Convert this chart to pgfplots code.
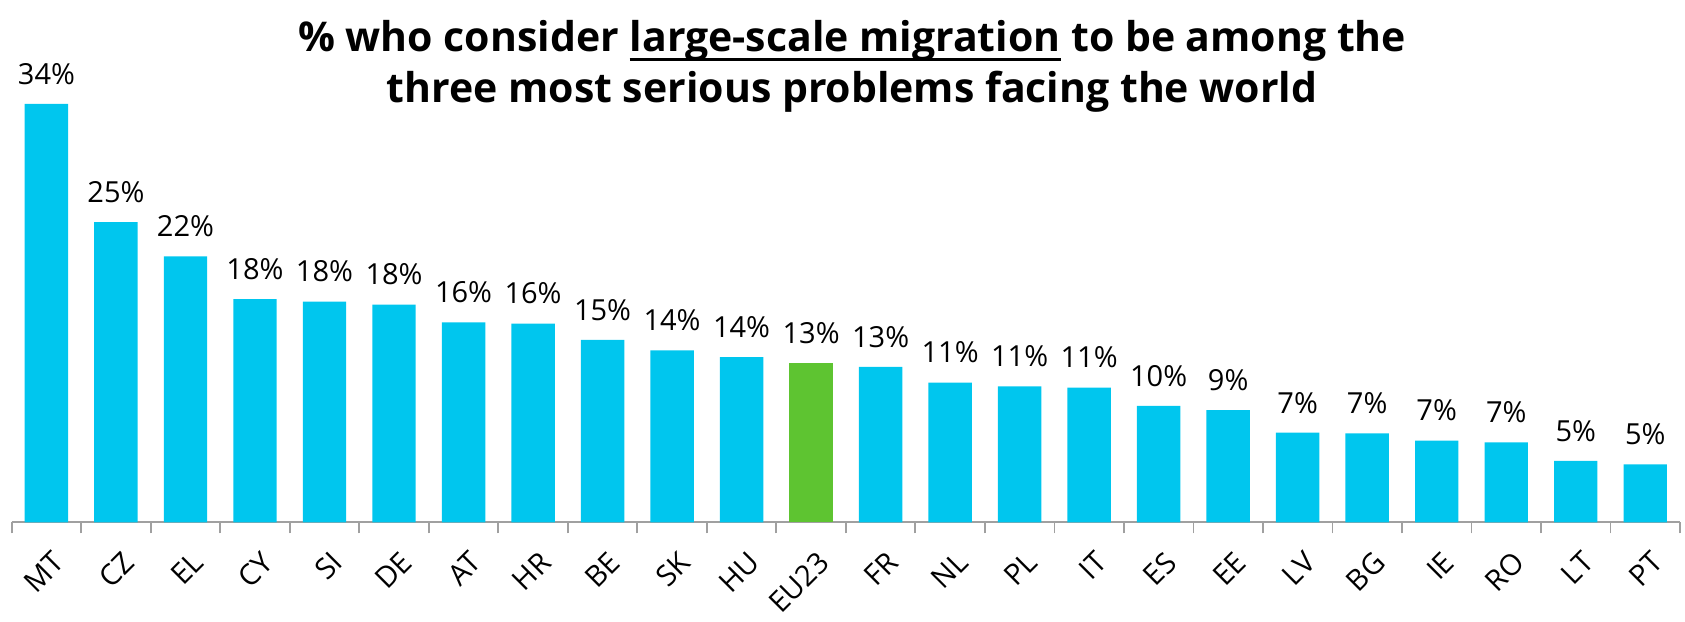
\documentclass[border=0pt]{standalone}
\usepackage{pgfplots}
\pgfplotsset{compat=1.18}
\usepackage{pgfplotstable}
\usepackage{fontspec}
\setmainfont{Open Sans}
\definecolor{barcyan}{RGB}{0,198,238}
\definecolor{bargreen}{RGB}{94,196,49}
\definecolor{axisgray}{RGB}{160,160,160}
\newcommand\ul[1]{\setbox0=\hbox{#1}\rlap{\raisebox{-4.5pt}{\rule{\wd0}{1.4pt}}}\box0\relax}

\pgfplotstableread{
x y lab
0 34.3 34
1 24.6 25
2 21.8 22
3 18.3 18
4 18.1 18
5 17.85 18
6 16.4 16
7 16.3 16
8 14.95 15
9 14.1 14
10 13.55 14
12 12.75 13
13 11.45 11
14 11.15 11
15 11.05 11
16 9.55 10
17 9.2 9
18 7.35 7
19 7.3 7
20 6.7 7
21 6.55 7
22 5.05 5
23 4.75 5
}\countries
\pgfplotstableread{
x y lab
11 13.05 13
}\eu

\begin{document}
\begin{tikzpicture}
\useasboundingbox (-5.85pt,-49.35pt) rectangle (836.5pt,261.15pt);
\begin{axis}[
 scale only axis, width=834pt, height=244pt,
 xmin=-0.5, xmax=23.5, ymin=0, ymax=40,
 axis y line=none, axis x line*=bottom,
 x axis line style={draw=axisgray, line width=0.9pt},
 ybar, bar width=0.625,
 xtick={0,...,23},
 xticklabels={MT,CZ,EL,CY,SI,DE,AT,HR,BE,SK,HU,EU23,FR,NL,PL,IT,ES,EE,LV,BG,IE,RO,LT,PT},
 major tick length=0pt, minor tick length=5.5pt,
 minor xtick={-0.5,0.5,...,23.5},
 tick align=outside,
 xtick style={draw=axisgray, line width=0.9pt},
 xticklabel style={font=\fontsize{14.5}{16}\selectfont, xshift=2.5pt, rotate=45, anchor=north east, inner sep=0pt},
 xticklabel shift=13.5pt,
 point meta=explicit symbolic,
 nodes near coords={\pgfplotspointmeta\%},
 nodes near coords style={font=\fontsize{14.5}{16}\selectfont, anchor=south, inner sep=0pt, yshift=9.5pt, text=black},
 clip=false,
]
\addplot[fill=barcyan, draw=none, bar shift=0pt] table[x=x,y=y,meta=lab]{\countries};
\addplot[fill=bargreen, draw=none, bar shift=0pt] table[x=x,y=y,meta=lab]{\eu};
\node[font=\fontsize{20.5}{25}\selectfont\bfseries, anchor=base] at (rel axis cs:0.5038,0.964) {\% who consider \ul{large-scale migration} to be among the};
\node[font=\fontsize{20.5}{25}\selectfont\bfseries, anchor=base] at (rel axis cs:0.5038,0.861) {three most serious problems facing the world};
\end{axis}
\end{tikzpicture}
\end{document}
